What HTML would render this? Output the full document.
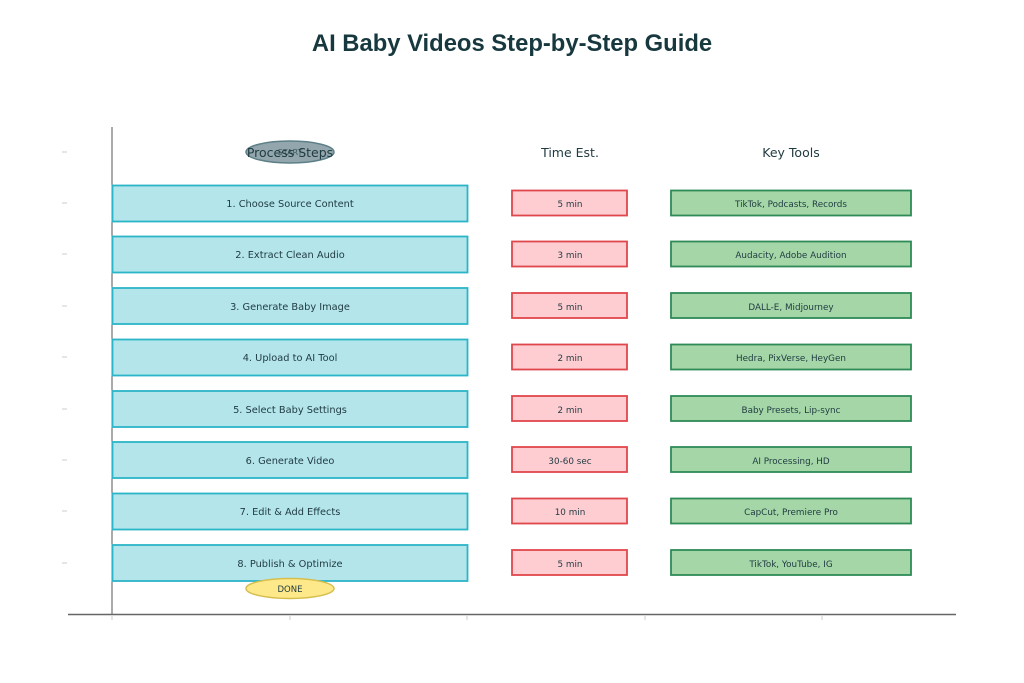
<!DOCTYPE html>
<html><head><meta charset="utf-8"><style>
html,body{margin:0;padding:0;background:#fff;}
svg{display:block;}
text{font-family:"DejaVu Sans","Liberation Sans",sans-serif;fill:#1f3a40;}
</style></head><body>
<svg width="1024" height="683" viewBox="0 0 1024 683">
<text x="512" y="51" text-anchor="middle" style="font-family:'Liberation Sans',sans-serif;font-weight:bold;font-size:23.8px;fill:#17383e">AI Baby Videos Step-by-Step Guide</text>
<line x1="112" y1="127" x2="112" y2="615" stroke="#555" stroke-width="1"/>
<line x1="68" y1="614.5" x2="956" y2="614.5" stroke="#666" stroke-width="1.5"/>
<g stroke="#ccc" stroke-width="1">
<line x1="112" y1="616" x2="112" y2="620"/><line x1="290" y1="616" x2="290" y2="620"/><line x1="467" y1="616" x2="467" y2="620"/><line x1="645" y1="616" x2="645" y2="620"/><line x1="822" y1="616" x2="822" y2="620"/>
<line x1="62" y1="152" x2="67" y2="152"/><line x1="62" y1="203" x2="67" y2="203"/><line x1="62" y1="254" x2="67" y2="254"/><line x1="62" y1="306" x2="67" y2="306"/><line x1="62" y1="357" x2="67" y2="357"/><line x1="62" y1="409" x2="67" y2="409"/><line x1="62" y1="460" x2="67" y2="460"/><line x1="62" y1="511" x2="67" y2="511"/><line x1="62" y1="563" x2="67" y2="563"/>
</g>
<ellipse cx="290" cy="152" rx="44" ry="11" fill="#93a6ae" stroke="#5d7f87" stroke-width="1.5"/>
<text x="290" y="155" text-anchor="middle" font-size="8" style="fill:#3c5a60">START</text>
<text x="290" y="157" text-anchor="middle" font-size="12.5">Process Steps</text>
<text x="570" y="157" text-anchor="middle" font-size="12.5">Time Est.</text>
<text x="791" y="157" text-anchor="middle" font-size="12.5">Key Tools</text>
<g>
<rect x="112.5" y="185.5" width="355" height="36" fill="#b3e5eb" stroke="#2bb5c8" stroke-width="1.8"/><rect x="512" y="190.5" width="115" height="25" fill="#fdcdd2" stroke="#e0474c" stroke-width="1.8"/><rect x="671" y="190.5" width="240" height="25" fill="#a5d6a7" stroke="#2e8b57" stroke-width="1.8"/>
<rect x="112.5" y="236.5" width="355" height="36" fill="#b3e5eb" stroke="#2bb5c8" stroke-width="1.8"/><rect x="512" y="241.5" width="115" height="25" fill="#fdcdd2" stroke="#e0474c" stroke-width="1.8"/><rect x="671" y="241.5" width="240" height="25" fill="#a5d6a7" stroke="#2e8b57" stroke-width="1.8"/>
<rect x="112.5" y="288" width="355" height="36" fill="#b3e5eb" stroke="#2bb5c8" stroke-width="1.8"/><rect x="512" y="293" width="115" height="25" fill="#fdcdd2" stroke="#e0474c" stroke-width="1.8"/><rect x="671" y="293" width="240" height="25" fill="#a5d6a7" stroke="#2e8b57" stroke-width="1.8"/>
<rect x="112.5" y="339.5" width="355" height="36" fill="#b3e5eb" stroke="#2bb5c8" stroke-width="1.8"/><rect x="512" y="344.5" width="115" height="25" fill="#fdcdd2" stroke="#e0474c" stroke-width="1.8"/><rect x="671" y="344.5" width="240" height="25" fill="#a5d6a7" stroke="#2e8b57" stroke-width="1.8"/>
<rect x="112.5" y="391" width="355" height="36" fill="#b3e5eb" stroke="#2bb5c8" stroke-width="1.8"/><rect x="512" y="396" width="115" height="25" fill="#fdcdd2" stroke="#e0474c" stroke-width="1.8"/><rect x="671" y="396" width="240" height="25" fill="#a5d6a7" stroke="#2e8b57" stroke-width="1.8"/>
<rect x="112.5" y="442" width="355" height="36" fill="#b3e5eb" stroke="#2bb5c8" stroke-width="1.8"/><rect x="512" y="447" width="115" height="25" fill="#fdcdd2" stroke="#e0474c" stroke-width="1.8"/><rect x="671" y="447" width="240" height="25" fill="#a5d6a7" stroke="#2e8b57" stroke-width="1.8"/>
<rect x="112.5" y="493.5" width="355" height="36" fill="#b3e5eb" stroke="#2bb5c8" stroke-width="1.8"/><rect x="512" y="498.5" width="115" height="25" fill="#fdcdd2" stroke="#e0474c" stroke-width="1.8"/><rect x="671" y="498.5" width="240" height="25" fill="#a5d6a7" stroke="#2e8b57" stroke-width="1.8"/>
<rect x="112.5" y="545" width="355" height="36" fill="#b3e5eb" stroke="#2bb5c8" stroke-width="1.8"/><rect x="512" y="550" width="115" height="25" fill="#fdcdd2" stroke="#e0474c" stroke-width="1.8"/><rect x="671" y="550" width="240" height="25" fill="#a5d6a7" stroke="#2e8b57" stroke-width="1.8"/>
</g>
<g font-size="9.8" text-anchor="middle">
<text x="290" y="207">1. Choose Source Content</text><text x="570" y="207" font-size="8.8">5 min</text><text x="791" y="207" font-size="8.8">TikTok, Podcasts, Records</text>
<text x="290" y="258">2. Extract Clean Audio</text><text x="570" y="258" font-size="8.8">3 min</text><text x="791" y="258" font-size="8.8">Audacity, Adobe Audition</text>
<text x="290" y="310">3. Generate Baby Image</text><text x="570" y="310" font-size="8.8">5 min</text><text x="791" y="310" font-size="8.8">DALL-E, Midjourney</text>
<text x="290" y="361">4. Upload to AI Tool</text><text x="570" y="361" font-size="8.8">2 min</text><text x="791" y="361" font-size="8.8">Hedra, PixVerse, HeyGen</text>
<text x="290" y="413">5. Select Baby Settings</text><text x="570" y="413" font-size="8.8">2 min</text><text x="791" y="413" font-size="8.8">Baby Presets, Lip-sync</text>
<text x="290" y="464">6. Generate Video</text><text x="570" y="464" font-size="8.8">30-60 sec</text><text x="791" y="464" font-size="8.8">AI Processing, HD</text>
<text x="290" y="515">7. Edit &amp; Add Effects</text><text x="570" y="515" font-size="8.8">10 min</text><text x="791" y="515" font-size="8.8">CapCut, Premiere Pro</text>
<text x="290" y="567">8. Publish &amp; Optimize</text><text x="570" y="567" font-size="8.8">5 min</text><text x="791" y="567" font-size="8.8">TikTok, YouTube, IG</text>
</g>
<ellipse cx="290" cy="588.5" rx="44" ry="10" fill="#fde98a" stroke="#d6be4e" stroke-width="1.5"/>
<text x="290" y="592" text-anchor="middle" font-size="8.5">DONE</text>
</svg>
</body></html>
